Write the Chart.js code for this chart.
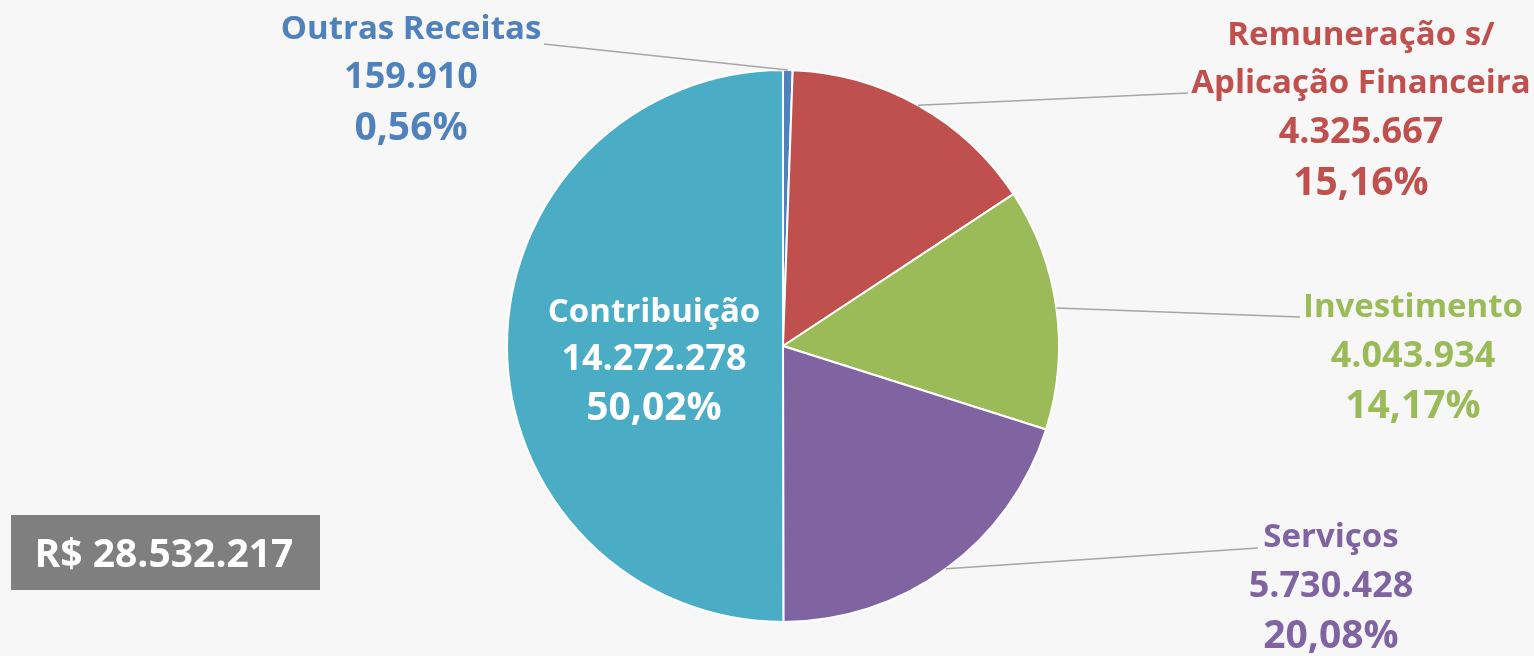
<!DOCTYPE html>
<html>
<head>
<meta charset="utf-8">
<script src="https://cdn.jsdelivr.net/npm/chart.js@4/dist/chart.umd.min.js"></script>
<style>
html,body{margin:0;padding:0;background:#f7f7f8;}
#wrap{position:relative;width:1534px;height:656px;}
</style>
</head>
<body>
<div id="wrap"><canvas id="c" width="1534" height="656"></canvas></div>
<script>
const categories = ['Outras Receitas', 'Remuneração s/ Aplicação Financeira', 'Investimento', 'Serviços', 'Contribuição'];
const labelLines = [['Outras Receitas'], ['Remuneração s/', 'Aplicação Financeira'], ['Investimento'], ['Serviços'], ['Contribuição']];
const values = [159910, 4325667, 4043934, 5730428, 14272278];
const colors = ['#4f81bd', '#c0504d', '#9bbb59', '#8064a2', '#4bacc6'];
const totalPrefix = 'R$ ';

function fmtInt(n){ return String(n).replace(/\B(?=(\d{3})+(?!\d))/g, '.'); }
const total = values.reduce((a,b)=>a+b,0);
function fmtPct(v){ return (v/total*100).toFixed(2).replace('.', ',') + '%'; }

// label layout (positions only): x center, baselines of each line, leader end
const labelPos = [
  {x:411, base:[39, 88, 140], anchor:{x:544,y:44}, inside:false},
  {x:1361, base:[45, 93, 143, 195], anchor:{x:1188,y:93}, inside:false},
  {x:1413, base:[317, 367, 418], anchor:{x:1300,y:317}, inside:false},
  {x:1331, base:[547, 597, 648], anchor:{x:1258,y:548}, inside:false},
  {x:654, base:[322, 370, 420], anchor:null, inside:true}
];
const FONT = '"Open Sans", Lato, sans-serif';

const labelPlugin = {
  id:'labels',
  afterDraw(chart){
    const ctx = chart.ctx;
    const meta = chart.getDatasetMeta(0);
    ctx.save();
    meta.data.forEach((arc, i)=>{
      const p = labelPos[i];
      const col = p.inside ? '#ffffff' : colors[i];
      if (p.anchor){
        const mid = (arc.startAngle + arc.endAngle)/2;
        const sx = arc.x + Math.cos(mid)*arc.outerRadius;
        const sy = arc.y + Math.sin(mid)*arc.outerRadius;
        ctx.strokeStyle = '#a6a6a6';
        ctx.lineWidth = 1.5;
        ctx.beginPath();
        ctx.moveTo(sx, sy);
        ctx.lineTo(p.anchor.x, p.anchor.y);
        ctx.stroke();
      }
      ctx.fillStyle = col;
      ctx.textAlign = 'center';
      ctx.textBaseline = 'alphabetic';
      const lines = labelLines[i];
      let k = 0;
      ctx.font = 'bold 33px ' + FONT;
      lines.forEach(l=>{ ctx.fillText(l, p.x, p.base[k++]); });
      ctx.font = 'bold 36px ' + FONT;
      ctx.fillText(fmtInt(values[i]), p.x, p.base[k++]);
      ctx.font = 'bold 39px ' + FONT;
      ctx.fillText(fmtPct(values[i]), p.x, p.base[k++]);
    });
    // total box
    ctx.fillStyle = '#7f7f7f';
    ctx.fillRect(11, 515, 309, 75);
    ctx.fillStyle = '#ffffff';
    ctx.font = 'bold 39px ' + FONT;
    ctx.textAlign = 'center';
    ctx.textBaseline = 'alphabetic';
    ctx.fillText(totalPrefix + fmtInt(total), 164, 567);
    ctx.restore();
  }
};

new Chart(document.getElementById('c'), {
  type:'pie',
  data:{
    labels: categories,
    datasets:[{
      data: values,
      backgroundColor: colors,
      borderColor:'#ffffff',
      borderWidth:2
    }]
  },
  options:{
    responsive:false,
    animation:false,
    layout:{padding:{left:506, right:474, top:69, bottom:33}},
    plugins:{legend:{display:false}, tooltip:{enabled:false}}
  },
  plugins:[labelPlugin]
});
</script>
</body>
</html>
